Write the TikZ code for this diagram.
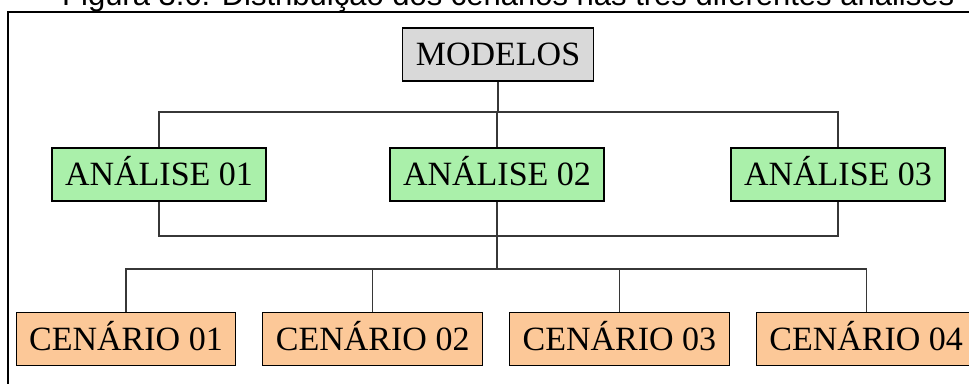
\documentclass[tikz,border=0pt]{standalone}
\usepackage{fontspec}
\setmainfont{Liberation Serif}
\newfontfamily\legendafont{Liberation Sans}
\usetikzlibrary{positioning}

\definecolor{cinzacaixa}{RGB}{217,217,217}
\definecolor{verdecaixa}{RGB}{170,240,170}
\definecolor{laranjacaixa}{RGB}{252,200,152}
\definecolor{cinzalinha}{RGB}{55,55,55}

\begin{document}
\begin{tikzpicture}[x=1pt, y=1pt,
        caixa/.style={draw=black, line width=1.1pt, inner xsep=13pt, minimum height=53pt,
            text height=22.5pt, text depth=0pt, font=\fontsize{34}{34}\selectfont},
        ligacao/.style={draw=cinzalinha, line width=1.1pt}]
            \useasboundingbox (0,0) rectangle (969,383);
            \clip (0,0) rectangle (969,383);

            % legenda e moldura
            \node[anchor=base west, inner sep=0pt, font=\legendafont\fontsize{31}{31}\selectfont] (legenda) at (62,377)
                {Figura 3.6: Distribuição dos cenários nas três diferentes análises};
            \draw[black, line width=1.6pt] (8,-5) -- (8,371) -- (975,371);

            % caixas
            \node[caixa, fill=cinzacaixa] (modelos) at (498,328.5) {MODELOS};
            \node[caixa, fill=verdecaixa] (A2) at (497,208.5) {ANÁLISE 02};
            \node[caixa, fill=verdecaixa] (A1) at (159,208.5) {ANÁLISE 01};
            \node[caixa, fill=verdecaixa] (A3) at (838,208.5) {ANÁLISE 03};
            \node[caixa, fill=laranjacaixa] (C1) at (126,44) {CENÁRIO 01};
            \node[caixa, fill=laranjacaixa, right = 26pt of C1] (C2) {CENÁRIO 02};
            \node[caixa, fill=laranjacaixa, right = 26pt of C2] (C3) {CENÁRIO 03};
            \node[caixa, fill=laranjacaixa, right = 26pt of C3] (C4) {CENÁRIO 04};

            % barramentos
            \coordinate (barra1) at (0,271);
            \coordinate (barra2) at (0,147);
            \coordinate (barra3) at (0,114);

            \draw[ligacao] (modelos.south) -- (modelos.south |- barra1);
            \draw[ligacao] (A1.north) -- (A1.north |- barra1) -- (A3.north |- barra1) -- (A3.north);
            \draw[ligacao] (A2.north) -- (A2.north |- barra1);
            \draw[ligacao] (A1.south) -- (A1.south |- barra2) -- (A3.south |- barra2) -- (A3.south);
            \draw[ligacao] (A2.south) -- (A2.south |- barra3);
            \draw[ligacao] (C1.north) -- (C1.north |- barra3) -- (C4.north |- barra3) -- (C4.north);
            \draw[ligacao] (C2.north) -- (C2.north |- barra3);
            \draw[ligacao] (C3.north) -- (C3.north |- barra3);
        \end{tikzpicture}
\end{document}
